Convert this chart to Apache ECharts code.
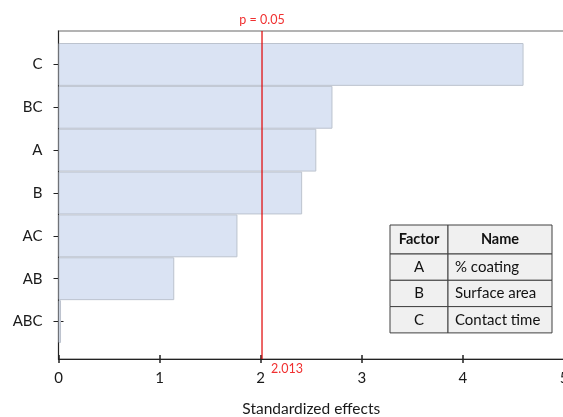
<!DOCTYPE html>
<html>
<head>
<meta charset="utf-8">
<script src="https://cdn.jsdelivr.net/npm/echarts@6/dist/echarts.min.js"></script>
<style>html,body{margin:0;padding:0;background:#fff}#c{width:563px;height:417px}</style>
</head>
<body>
<div id="c"></div>
<script>
const categories = ['C', 'BC', 'A', 'B', 'AC', 'AB', 'ABC'];
const effects = [4.60, 2.71, 2.55, 2.41, 1.77, 1.145, 0.025];
const xMin = 0, xMax = 5, xStep = 1;
const critical = 2.013;
const criticalLabel = 'p = 0.05';
const tableHeader = ['Factor', 'Name'];
const factorIds = ['A', 'B', 'C'];
const factorNames = ['% coating', 'Surface area', 'Contact time'];

const FONT = 'Lato, "Open Sans", sans-serif';
const RED_LINE = '#e00000';
const RED_TEXT = '#f03030';
const chart = echarts.init(document.getElementById('c'), null, {renderer: 'canvas'});

// table graphic
const tX = 390, tCol = [58, 104], tY = 225, hH = 29, rH = 26.3;
const graphics = [];
function cell(x, y, w, h) {
  graphics.push({type: 'rect', shape: {x: x, y: y, width: w, height: h},
    style: {fill: '#f0f0f0', stroke: '#404040', lineWidth: 1}, z: 100});
}
function txt(str, x, y, align, bold) {
  graphics.push({type: 'text', x: x, y: y, z: 101,
    style: {text: str, fill: '#111', font: (bold ? 'bold 14.5px ' : '15px ') + FONT,
      textAlign: align, textVerticalAlign: 'middle'}});
}
cell(tX, tY, tCol[0], hH); cell(tX + tCol[0], tY, tCol[1], hH);
txt(tableHeader[0], tX + tCol[0] / 2, tY + hH / 2, 'center', true);
txt(tableHeader[1], tX + tCol[0] + tCol[1] / 2, tY + hH / 2, 'center', true);
factorIds.forEach(function (f, i) {
  const y = tY + hH + i * rH;
  cell(tX, y, tCol[0], rH); cell(tX + tCol[0], y, tCol[1], rH);
  txt(f, tX + tCol[0] / 2, y + rH / 2, 'center', false);
  txt(factorNames[i], tX + tCol[0] + 7, y + rH / 2, 'left', false);
});

const labelBase = {show: true, color: RED_TEXT, fontSize: 12.5, fontFamily: FONT};

const option = {
  animation: false,
  textStyle: {fontFamily: FONT},
  grid: [
    {left: 58.5, right: -1, top: 31, bottom: 58, show: true, borderColor: '#9a9a9a', borderWidth: 1.5,
      backgroundColor: 'transparent', containLabel: false, outerBoundsMode: 'none'},
    {left: 58.5, right: -1, top: 43, bottom: 74, containLabel: false, outerBoundsMode: 'none'}
  ],
  xAxis: [
    {gridIndex: 0, type: 'value', min: xMin, max: xMax, interval: xStep,
      axisLine: {show: true, onZero: false, lineStyle: {color: '#222', width: 1}},
      axisTick: {show: true, length: 4, lineStyle: {color: '#222', width: 1.5}},
      axisLabel: {fontSize: 15, color: '#1a1a1a', margin: 12, fontFamily: FONT},
      splitLine: {show: false},
      name: 'Standardized effects', nameLocation: 'middle', nameGap: 42,
      nameTextStyle: {fontSize: 15.5, color: '#1a1a1a', fontFamily: FONT}},
    {gridIndex: 1, type: 'value', min: xMin, max: xMax, interval: xStep, show: false},
    {gridIndex: 0, type: 'value', min: xMin, max: xMax, interval: xStep, position: 'bottom',
      axisLine: {show: false, onZero: false}, axisLabel: {show: false}, splitLine: {show: false},
      axisTick: {show: true, inside: true, length: 4, lineStyle: {color: '#222', width: 1.5}}}
  ],
  yAxis: [
    {gridIndex: 0, type: 'value', min: 0, max: 1,
      axisLine: {show: true, onZero: false, lineStyle: {color: '#222', width: 1}},
      axisTick: {show: false}, axisLabel: {show: false}, splitLine: {show: false}},
    {gridIndex: 1, type: 'category', data: categories, inverse: true, position: 'left',
      axisLine: {show: false},
      axisTick: {show: true, alignWithLabel: true, length: 5, lineStyle: {color: '#222'}},
      axisLabel: {fontSize: 15, color: '#1a1a1a', margin: 16, fontFamily: FONT}},
    {gridIndex: 1, type: 'category', data: categories, inverse: true, position: 'left',
      axisLine: {show: false}, axisLabel: {show: false},
      axisTick: {show: true, inside: true, alignWithLabel: true, length: 5, lineStyle: {color: '#222'}}}
  ],
  series: [
    {type: 'bar', xAxisIndex: 1, yAxisIndex: 1, data: effects, barCategoryGap: '0%',
      itemStyle: {color: '#dae3f3', borderColor: '#bcc3ce', borderWidth: 1}},
    {type: 'line', xAxisIndex: 0, yAxisIndex: 0, z: 5, silent: true, clip: false,
      symbol: 'circle', symbolSize: 0.1, showSymbol: true,
      itemStyle: {color: RED_LINE},
      lineStyle: {color: RED_LINE, width: 1.2, type: 'solid'},
      data: [
        {value: [critical, 0], label: Object.assign({}, labelBase, {position: 'bottom', distance: 3, offset: [25, 0], formatter: String(critical)})},
        {value: [critical, 1], label: Object.assign({}, labelBase, {position: 'top', distance: 4, formatter: criticalLabel})}
      ]}
  ],
  graphic: graphics
};
chart.setOption(option);
</script>
</body>
</html>
